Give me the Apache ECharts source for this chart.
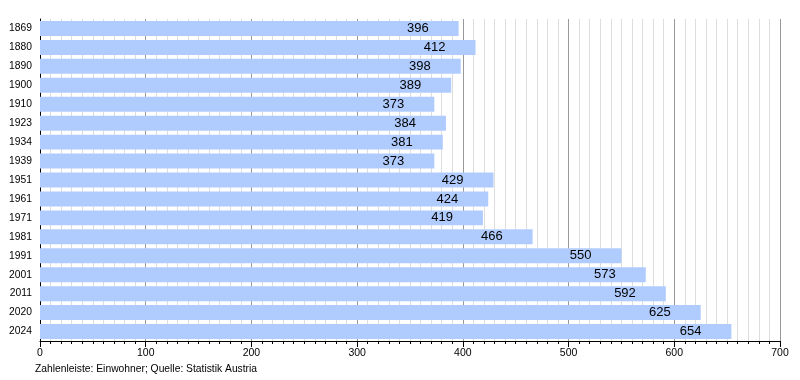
<!DOCTYPE html>
<html><head><meta charset="utf-8">
<script src="https://cdn.jsdelivr.net/npm/echarts@6/dist/echarts.min.js"></script>
<style>html,body{margin:0;padding:0;background:#fff}#c{width:800px;height:380px}</style>
</head><body><div id="c"></div>
<script>
const years = ['1869','1880','1890','1900','1910','1923','1934','1939','1951','1961','1971','1981','1991','2001','2011','2020','2024'];
const population = [396,412,398,389,373,384,381,373,429,424,419,466,550,573,592,625,654];
const xTicks = [0,100,200,300,400,500,600,700];
const caption = 'Zahlenleiste: Einwohner; Quelle: Statistik Austria';

const chart = echarts.init(document.getElementById('c'), null, {renderer:'canvas'});
chart.setOption({
  animation:false,
  textStyle:{fontFamily:'Liberation Sans, Arial, sans-serif'},
  grid:{left:40,right:20,top:19,bottom:39,containLabel:false},
  graphic:[{type:'text',left:35,top:364,style:{text:caption,font:'10.3px "Liberation Sans", Arial, sans-serif',fill:'#000'}}],
  xAxis:{type:'value',min:xTicks[0],max:xTicks[xTicks.length-1],interval:100,
    axisLine:{show:true,lineStyle:{color:'#000',width:1}},
    axisTick:{show:true,length:6,lineStyle:{color:'#000'}},
    minorTick:{show:true,splitNumber:10,length:3,lineStyle:{color:'#000'}},
    axisLabel:{color:'#000',fontSize:10.5,margin:7},
    splitLine:{show:true,lineStyle:{color:'#999',width:1}},
    minorSplitLine:{show:true,lineStyle:{color:'#ddd',width:1}}
  },
  yAxis:{type:'category',data:years,inverse:true,
    axisLine:{show:true,lineStyle:{color:'#000',width:1}},
    axisTick:{show:false},
    axisLabel:{color:'#000',fontSize:10.3,margin:8},
    splitLine:{show:false}
  },
  series:[{type:'bar',data:population,barCategoryGap:'21%',
    itemStyle:{color:'#b0ccff'},
    label:{show:true,position:'insideRight',distance:30,color:'#000',fontSize:13},
    z:3
  }]
});
</script></body></html>
